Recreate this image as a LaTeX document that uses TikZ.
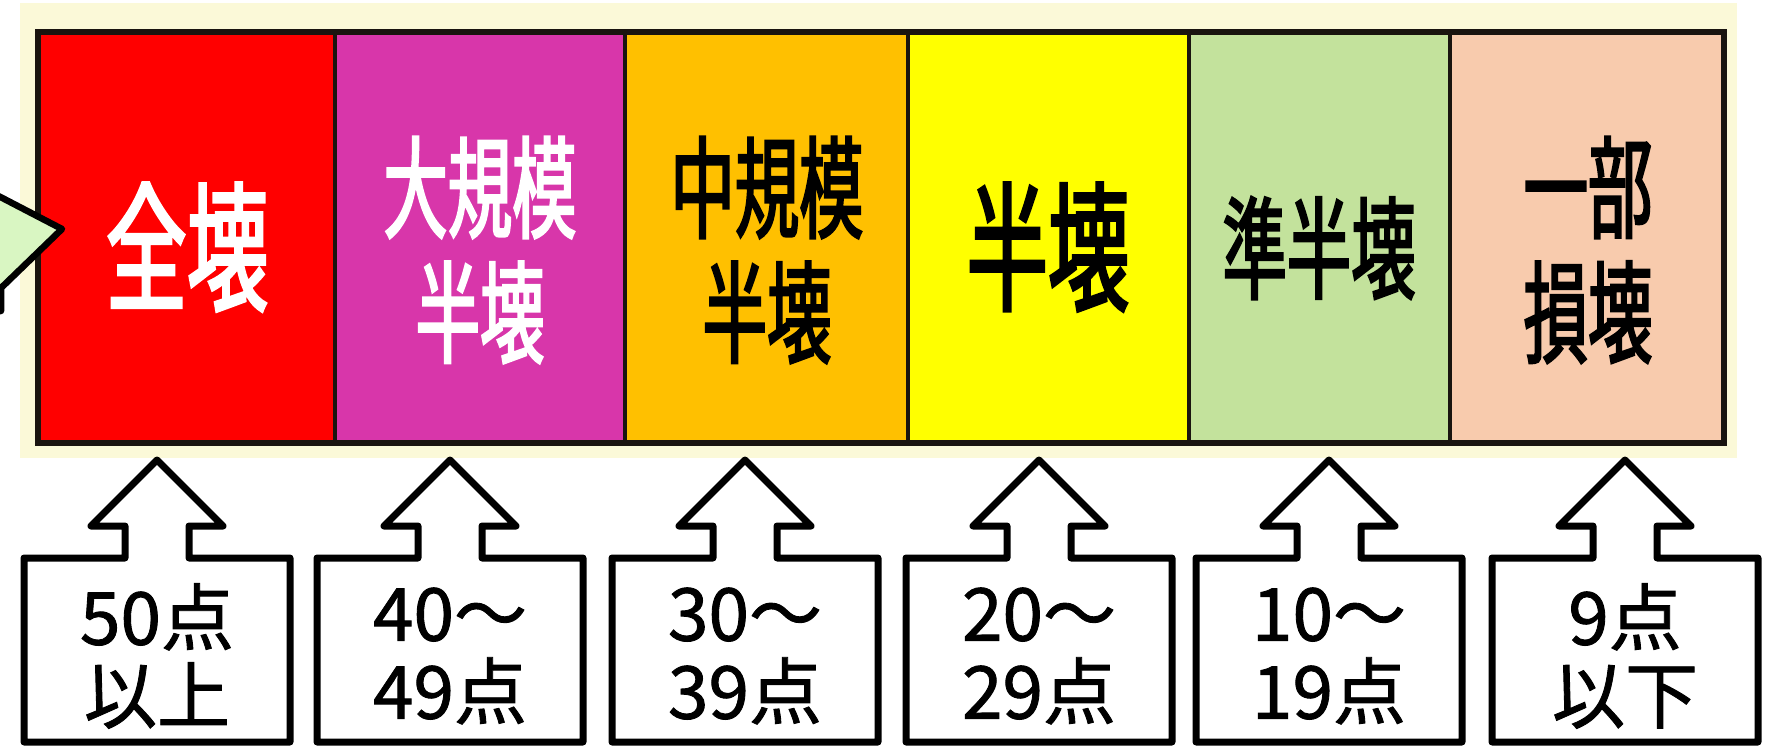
\documentclass[tikz,border=0pt]{standalone}
\usepackage{fontspec}
\newfontfamily\jp{Noto Sans CJK JP}[FakeBold=1.2]
\newfontfamily\jpn{Noto Sans CJK JP}[FakeStretch=0.58,FakeBold=2]
\definecolor{bgbeige}{RGB}{251,249,216}
\definecolor{cred}{RGB}{255,0,0}
\definecolor{cmag}{RGB}{216,54,170}
\definecolor{corange}{RGB}{255,192,0}
\definecolor{cyellow}{RGB}{255,255,0}
\definecolor{cgreen}{RGB}{195,226,156}
\definecolor{cpeach}{RGB}{248,203,173}
\definecolor{callgreen}{RGB}{217,246,194}
\definecolor{barline}{RGB}{25,20,15}
\newcommand\scorearrow[3]{%
  \draw[blockarrow] (#2,460) -- ({#2+66},526) -- ({#2+32},526) -- ({#2+32},558)
    -- ({#2+133},558) -- ({#2+133},742) -- ({#2-133},742) -- ({#2-133},558)
    -- ({#2-32},558) -- ({#2-32},526) -- ({#2-66},526) -- cycle;
  \node[score] (#1) at (#2,656) {#3};}
\begin{document}
\begin{tikzpicture}[x=1pt,y=-1pt,
  bartext/.style={inner sep=0pt, align=center, font=\jpn\fontsize{111}{125}\selectfont},
  bigtext/.style={inner sep=0pt, align=center, font=\jpn\fontsize{140}{140}\selectfont},
  score/.style={inner sep=0pt, align=center, font=\jp\fontsize{73}{78}\selectfont},
  blockarrow/.style={draw=black, fill=white, line width=7pt, line join=round},
  cellline/.style={draw=barline, line width=4pt}]
\useasboundingbox (0,0) rectangle (1778,746);
\fill[white] (0,0) rectangle (1778,746);
% beige background
\fill[bgbeige] (20,3) rectangle (1737,458);
% cells
\fill[cred] (38,32) rectangle (335,443);
\fill[cmag] (335,32) rectangle (625,443);
\fill[corange] (625,32) rectangle (908,443);
\fill[cyellow] (908,32) rectangle (1189,443);
\fill[cgreen] (1189,32) rectangle (1450,443);
\fill[cpeach] (1450,32) rectangle (1724,443);
\foreach \xx in {335,625,908,1189,1450} \draw[cellline] (\xx,32) -- (\xx,443);
\draw[barline, line width=6pt] (38,32) rectangle (1724,443);
% cell texts
\node[bigtext, text=white] (t1) at (187,247) {全壊};
\node[bartext, text=white] (t2) at (480,250) {大規模\\半壊};
\node[bartext] (t3) at (767,250) {中規模\\半壊};
\node[bigtext] (t4) at (1048,247) {半壊};
\node[bartext] (t5) at (1319,248) {準半壊};
\node[bartext] (t6) at (1588,250) {一部\\損壊};
% callout at left
\draw[fill=callgreen, line width=6.5pt, line join=round] (-40,176) -- (62,229) -- (1,288) -- (1,311) -- (-40,311) -- cycle;
% score arrows
\scorearrow{a1}{157}{50点\\以上}
\scorearrow{a2}{450}{40～\\49点}
\scorearrow{a3}{745}{30～\\39点}
\scorearrow{a4}{1039}{20～\\29点}
\scorearrow{a5}{1329}{10～\\19点}
\scorearrow{a6}{1625}{9点\\以下}
\end{tikzpicture}
\end{document}
